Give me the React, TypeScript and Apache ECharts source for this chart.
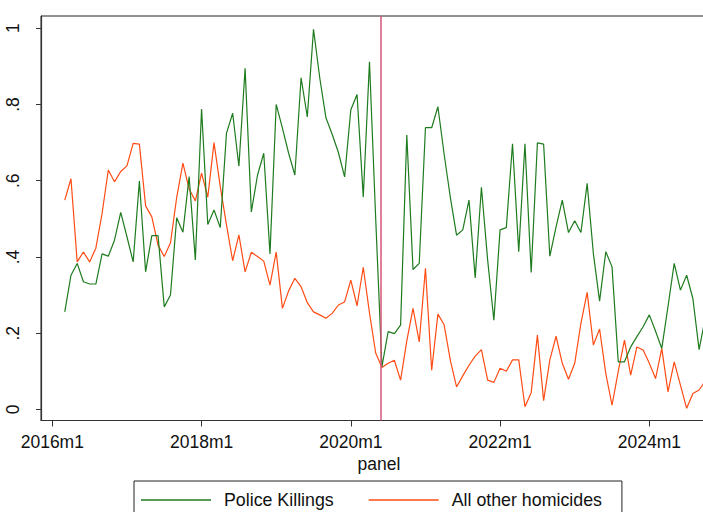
import React, { useEffect, useRef } from "react";
import * as echarts from "echarts";

// Monthly shares, first observation is 2016m3 (panel months counted from 2016m1)
const firstYear = 2016;
const firstMonth = 3;

const policeKillings = [
  0.256, 0.352, 0.383, 0.335, 0.329, 0.329, 0.408, 0.402, 0.444, 0.517,
  0.453, 0.387, 0.599, 0.361, 0.456, 0.456, 0.269, 0.300, 0.503, 0.465,
  0.611, 0.392, 0.788, 0.485, 0.523, 0.477, 0.724, 0.777, 0.638, 0.895,
  0.518, 0.615, 0.672, 0.408, 0.800, 0.738, 0.672, 0.615, 0.870, 0.767,
  0.997, 0.870, 0.765, 0.722, 0.674, 0.610, 0.786, 0.826, 0.557, 0.912,
  0.500, 0.112, 0.204, 0.199, 0.221, 0.720, 0.367, 0.383, 0.739, 0.739,
  0.794, 0.670, 0.556, 0.457, 0.471, 0.549, 0.345, 0.583, 0.392, 0.234,
  0.471, 0.477, 0.697, 0.414, 0.697, 0.359, 0.699, 0.696, 0.402, 0.479,
  0.549, 0.464, 0.495, 0.464, 0.593, 0.409, 0.284, 0.414, 0.374, 0.125,
  0.125, 0.164, 0.191, 0.217, 0.248, 0.205, 0.160, 0.270, 0.383, 0.313,
  0.352, 0.291, 0.157, 0.240,
];

const otherHomicides = [
  0.549, 0.605, 0.387, 0.413, 0.387, 0.423, 0.514, 0.628, 0.597, 0.624,
  0.639, 0.698, 0.696, 0.534, 0.505, 0.431, 0.401, 0.437, 0.556, 0.646,
  0.578, 0.547, 0.620, 0.557, 0.700, 0.585, 0.485, 0.390, 0.458, 0.361,
  0.412, 0.401, 0.389, 0.326, 0.413, 0.265, 0.311, 0.344, 0.322, 0.280,
  0.256, 0.248, 0.239, 0.252, 0.274, 0.282, 0.339, 0.272, 0.373, 0.253,
  0.148, 0.110, 0.121, 0.129, 0.077, 0.180, 0.265, 0.177, 0.370, 0.103,
  0.250, 0.222, 0.129, 0.059, 0.088, 0.116, 0.140, 0.157, 0.077, 0.071,
  0.108, 0.100, 0.130, 0.130, 0.007, 0.044, 0.195, 0.023, 0.130, 0.192,
  0.121, 0.079, 0.121, 0.226, 0.307, 0.169, 0.211, 0.094, 0.011, 0.100,
  0.182, 0.090, 0.164, 0.156, 0.121, 0.081, 0.160, 0.046, 0.125, 0.064,
  0.003, 0.042, 0.051, 0.075,
];

const xTickLabels = ["2016m1", "2018m1", "2020m1", "2022m1", "2024m1"];
const yTickValues = [0, 0.2, 0.4, 0.6, 0.8, 1];
const yTickLabels = ["0", ".2", ".4", ".6", ".8", "1"];

// Reference line: 25 May 2020
const eventPanel = "2020m5";
const eventDayFraction = 25 / 31;

const seriesNames = ["Police Killings", "All other homicides"];

function panelIndex(label: string): number {
  const [y, m] = label.split("m").map(Number);
  return (y - 2016) * 12 + (m - 1);
}

function panelLabel(idx: number): string {
  const y = 2016 + Math.floor(idx / 12);
  const m = (idx % 12) + 1;
  return `${y}m${m}`;
}

const FONT = "'Liberation Sans', Arial, sans-serif";

export default function App() {
  const ref = useRef<HTMLDivElement>(null);

  useEffect(() => {
    if (!ref.current) return;
    const chart = echarts.init(ref.current, undefined, { renderer: "svg" });
    const offset = (firstYear - 2016) * 12 + (firstMonth - 1);
    const toPoints = (arr: number[]) => arr.map((v, k) => [offset + k, v]);
    const xTickValues = xTickLabels.map(panelIndex);
    const eventX = panelIndex(eventPanel) + eventDayFraction;

    chart.setOption({
      animation: false,
      backgroundColor: "#ffffff",
      grid: {
        left: 41,
        top: 16,
        width: 676,
        height: 404.5,
        outerBoundsMode: "none",
        containLabel: false,
        show: true,
        borderColor: "#222",
        borderWidth: 1,
        backgroundColor: "#ffffff",
      },
      xAxis: {
        type: "value",
        min: -1.82,
        max: 106.88,
        name: "panel",
        nameLocation: "middle",
        nameGap: 32,
        nameTextStyle: { fontFamily: FONT, fontSize: 17.5, color: "#111" },
        splitLine: { show: false },
        axisLine: { show: true, onZero: false, lineStyle: { color: "#333", width: 1.2 } },
        axisTick: {
          show: true,
          length: 6,
          customValues: xTickValues,
          lineStyle: { color: "#333", width: 1 },
        },
        axisLabel: {
          customValues: xTickValues,
          formatter: (v: number) => panelLabel(Math.round(v)),
          fontFamily: FONT,
          fontSize: 17.5,
          color: "#111",
          margin: 12,
        },
      },
      yAxis: {
        type: "value",
        min: -0.029,
        max: 1.032,
        splitLine: { show: false },
        axisLine: { show: true, onZero: false, lineStyle: { color: "#333", width: 1.2 } },
        axisTick: {
          show: true,
          length: 5,
          customValues: yTickValues,
          lineStyle: { color: "#333", width: 1 },
        },
        axisLabel: {
          customValues: yTickValues,
          formatter: (v: number) => {
            const i = yTickValues.findIndex((t) => Math.abs(t - v) < 1e-6);
            return i >= 0 ? yTickLabels[i] : "";
          },
          rotate: 90,
          fontFamily: FONT,
          fontSize: 17.5,
          color: "#111",
          margin: 19,
        },
      },
      legend: {
        left: 134,
        top: 481,
        orient: "horizontal",
        icon: "rect",
        itemWidth: 70,
        itemHeight: 1.5,
        itemGap: 35,
        padding: [10, 20, 20, 7],
        borderColor: "#222",
        borderWidth: 1,
        backgroundColor: "#ffffff",
        textStyle: {
          fontFamily: FONT,
          fontSize: 17.8,
          color: "#111",
          padding: [0, 0, 0, 8],
        },
        data: seriesNames,
      },
      series: [
        {
          name: seriesNames[0],
          type: "line",
          data: toPoints(policeKillings),
          showSymbol: false,
          symbol: "none",
          color: "#1e7b1e",
          lineStyle: { color: "#1e7b1e", width: 1.2 },
          z: 3,
          markLine: {
            silent: true,
            symbol: "none",
            label: { show: false },
            lineStyle: { color: "#d4557a", width: 1.5, type: "solid" },
            data: [{ xAxis: eventX }],
          },
        },
        {
          name: seriesNames[1],
          type: "line",
          data: toPoints(otherHomicides),
          showSymbol: false,
          symbol: "none",
          color: "#ff4c14",
          lineStyle: { color: "#ff4c14", width: 1.2 },
          z: 2,
        },
      ],
    });

    return () => chart.dispose();
  }, []);

  return (
    <div
      ref={ref}
      style={{ position: "fixed", left: 0, top: 0, width: 703, height: 512, background: "#fff" }}
    />
  );
}
